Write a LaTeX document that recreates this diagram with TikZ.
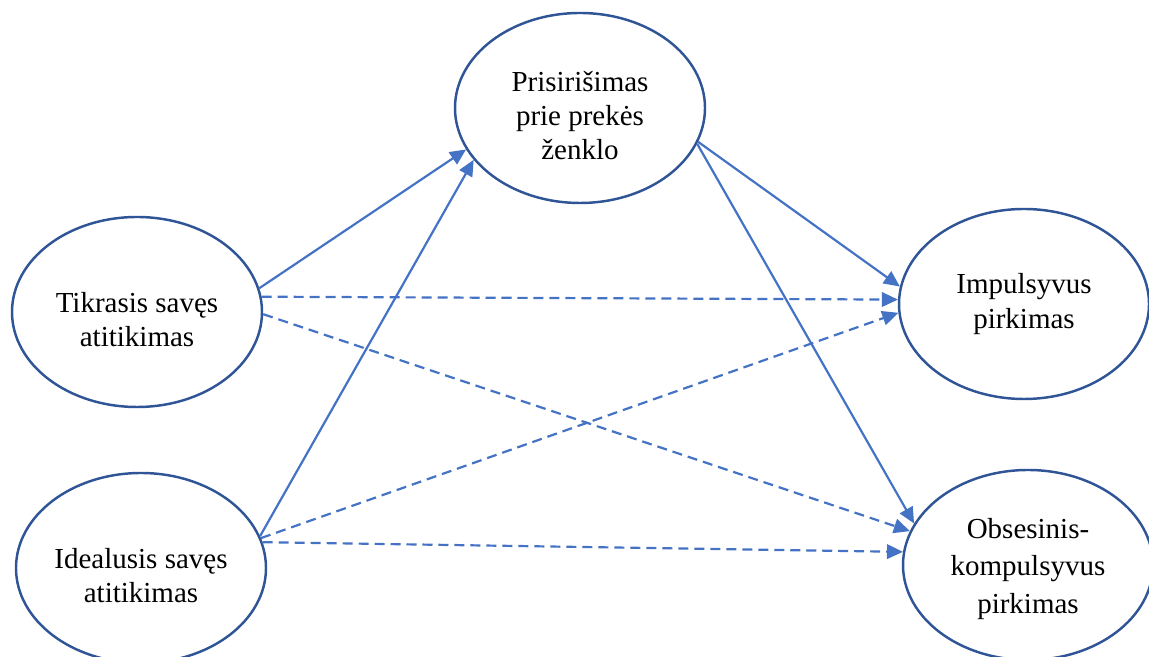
\documentclass[tikz,border=0pt]{standalone}
\usepackage{fontspec}
\setmainfont{Liberation Serif}
\usepackage{tikz}
\usetikzlibrary{arrows.meta, shapes.geometric}

\definecolor{ringblue}{HTML}{2F5597}
\definecolor{linkblue}{HTML}{4472C4}

\begin{document}
\begin{tikzpicture}[
			construct/.style={
				ellipse,
				draw=ringblue,
				line width=1.4pt,
				align=center,
				inner sep=0pt,
				minimum width=5cm,
				minimum height=3.8cm,
				font=\fontsize{16.5}{19.5}\selectfont
			},
			arrow/.style={-{Triangle[length=3.2mm, width=2.9mm]}, draw=linkblue, line width=1.25pt},
			dasharrow/.style={arrow, dash pattern=on 5.7pt off 3.4pt}
			]
			
			\useasboundingbox (0,0) rectangle (22.98,13.14);
			
			\node[construct] (attach) at (11.6,10.98)
			{\rule{0pt}{20pt}Prisirišimas\\prie prekės\\ženklo};
			
			\node[construct] (actual) at (2.74,6.9)
			{\rule{0pt}{20pt}Tikrasis savęs\\atitikimas};
			
			\node[construct] (ideal) at (2.82,1.78)
			{\rule{0pt}{20pt}Idealusis savęs\\atitikimas};
			
			\node[construct] (impulse) at (20.48,7.06)
			{Impulsyvus\\pirkimas};
			
			\node[construct, font=\fontsize{16.5}{21.3}\selectfont] (compulsive) at (20.56,1.84)
			{\rule{0pt}{16pt}Obsesinis-\\kompulsyvus\\pirkimas};
			
			\draw[arrow] (actual.11) -- (attach.200);
			\draw[arrow] (ideal.15) -- (attach.206);
			\draw[arrow] (attach.-16) -- (impulse.172);
			\draw[arrow] (attach.-17) -- (compulsive.160);
			
			\draw[dasharrow] (actual.7) -- (impulse.178);
			\draw[dasharrow] (actual.-1) -- (compulsive.164);
			\draw[dasharrow] (ideal.14) -- (impulse.184);
			\draw[dasharrow] (ideal.12) -- (compulsive.174);
			
		\end{tikzpicture}
\end{document}
